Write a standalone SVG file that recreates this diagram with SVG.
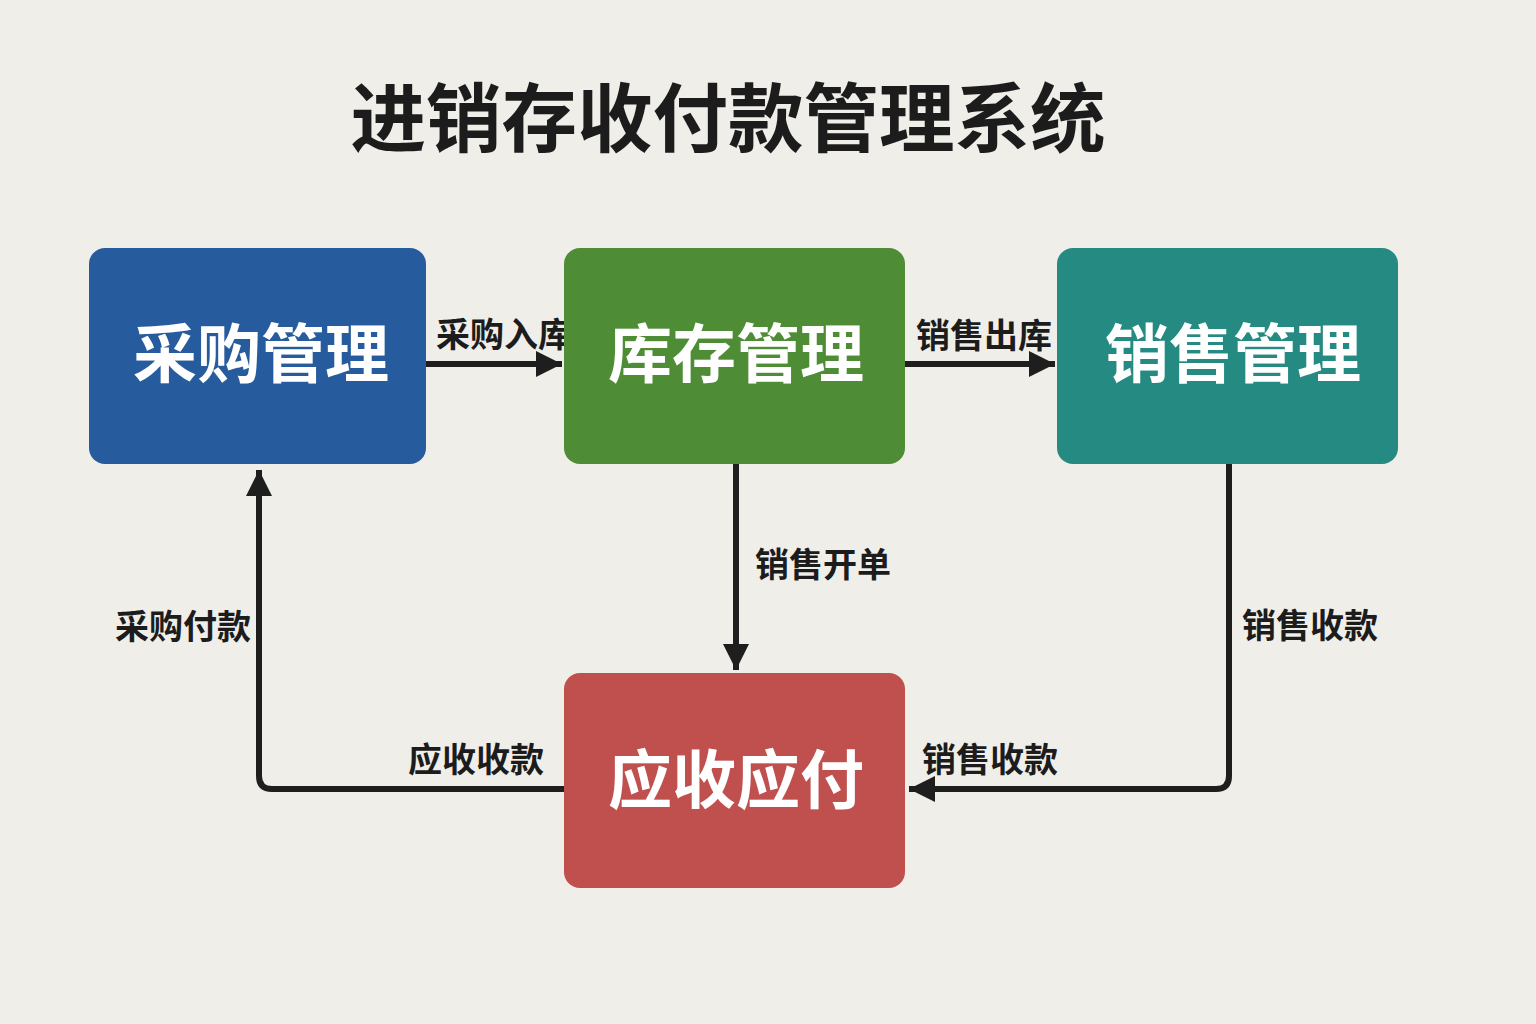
<svg xmlns="http://www.w3.org/2000/svg" width="1536" height="1024" viewBox="0 0 1536 1024">
<style>
.t{font-family:"Noto Sans CJK SC","Noto Sans",sans-serif;font-weight:700}
.title{font-size:75.5px;fill:#1c1c1c}
.node{font-size:64px;fill:#ffffff}
.lbl{font-size:34px;fill:#1c1c1c}
.ln{fill:none;stroke:#1e1e1e;stroke-width:6;stroke-linejoin:round}
</style>
<defs>
<marker id="ah" viewBox="0 0 10 10" refX="10" refY="5" markerWidth="4.4" markerHeight="4.4" orient="auto" markerUnits="strokeWidth">
<path d="M0,0 L10,5 L0,10 z" fill="#1e1e1e"/>
</marker>
</defs>
<rect width="1536" height="1024" fill="#F0EEE9"/>
<text class="t title" x="728" y="146" text-anchor="middle">进销存收付款管理系统</text>
<g id="connectors">
<path class="ln" d="M426,364 L562,364" marker-end="url(#ah)"/>
<text class="t lbl" x="436" y="347">采购入库</text>
<path class="ln" d="M905,364 L1055,364" marker-end="url(#ah)"/>
<text class="t lbl" x="916" y="348">销售出库</text>
<path class="ln" d="M736,464 L736,670" marker-end="url(#ah)"/>
<text class="t lbl" x="755" y="577">销售开单</text>
<path class="ln" d="M1229,464 L1229,776 Q1229,789 1216,789 L909,789" marker-end="url(#ah)"/>
<text class="t lbl" x="1242" y="638">销售收款</text>
<text class="t lbl" x="922" y="772">销售收款</text>
<path class="ln" d="M564,789 L272,789 Q259,789 259,776 L259,470" marker-end="url(#ah)"/>
<text class="t lbl" x="408" y="772">应收收款</text>
<text class="t lbl" x="115" y="639">采购付款</text>
</g>
<g id="purchase">
<rect x="89" y="248" width="337" height="216" rx="16" fill="#265C9E"/>
<text class="t node" x="261" y="377" text-anchor="middle">采购管理</text>
</g>
<g id="inventory">
<rect x="564" y="248" width="341" height="216" rx="16" fill="#4E8C35"/>
<text class="t node" x="736" y="377" text-anchor="middle">库存管理</text>
</g>
<g id="sales">
<rect x="1057" y="248" width="341" height="216" rx="16" fill="#248A82"/>
<text class="t node" x="1233" y="377" text-anchor="middle">销售管理</text>
</g>
<g id="arap">
<rect x="564" y="673" width="341" height="215" rx="16" fill="#C0504D"/>
<text class="t node" x="736" y="803" text-anchor="middle">应收应付</text>
</g>
</svg>
